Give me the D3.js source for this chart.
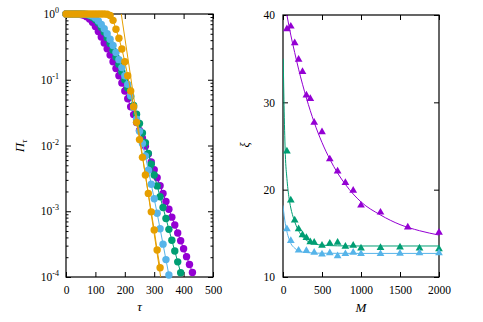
<!DOCTYPE html>
<html lang="en">
<head>
    <meta charset="UTF-8">
    <title>Pi tau and xi</title>
    <script src="https://d3js.org/d3.v7.min.js"></script>
    <style>
        body { margin: 0; background: white; }
        text { font-family: 'Liberation Serif', 'Times New Roman', serif; fill: black; }
        .tick text { font-family: 'Liberation Serif', 'Times New Roman', serif; font-size: 11.5px; }
    </style>
</head>
<body>
    <div id="chart"></div>
    <script>
        // left panel: survival probability vs tau (log scale)
        const tau = [0,10,20,30,40,50,60,70,80,90,100,110,120,130,140,150,160,170,180,190,200,
            210,220,230,240,250,260,270,280,290,300,310,320,330,340,350,360,370,380,390,400,410,420,430];
        const piPurple = [1,1,1,1,0.993,0.982,0.955,0.912,0.841,0.75,0.646,0.543,0.447,0.363,0.295,
            0.237,0.188,0.148,0.115,0.0891,0.0676,0.0513,0.0389,0.0295,0.0224,0.0170,0.0129,0.00977,
            0.00741,0.00562,0.00427,0.00324,0.00245,0.00186,0.00141,0.00107,0.000813,0.000617,
            0.000468,0.000355,0.000269,0.000204,0.000155,0.000117];
        const piGreen = [1,1,1,1,1,0.998,0.991,0.977,0.946,0.895,0.822,0.733,0.631,0.531,0.437,
            0.355,0.282,0.221,0.172,0.132,0.100,0.0750,0.0556,0.0407,0.0299,0.0216,0.0155,0.0110,
            0.00759,0.00519,0.00355,0.00243,0.00166,0.00114,0.000776,0.000531,0.000363,0.000248,
            0.000170,0.000116];
        const piCyan = [1,1,1,1,1,1,0.998,0.989,0.968,0.929,0.867,0.785,0.692,0.596,0.501,0.412,
            0.331,0.260,0.202,0.153,0.115,0.0851,0.0569,0.0380,0.0251,0.0164,0.0107,0.00692,
            0.00422,0.00257,0.00155,0.000933,0.000543,0.000316,0.000184,0.000107];
        const piOrange = [1,1,1,1,1,1,1,1,1,1,1,1,1,0.998,0.99,0.95,0.8,0.585,0.427,0.294,0.188,
            0.115,0.0675,0.039,0.0225,0.0123,0.0066,0.00356,0.00187,0.00098,0.00052,0.000258,0.000138];
        // straight fit drawn for the orange set
        const fitTau = [188, 322];
        const fitPi = [1, 0.0001];
        const tauTicks = [0,100,200,300,400,500];
        const piTicks = [1e-4,1e-3,1e-2,1e-1,1];

        // right panel: xi vs M
        const mPurple = [50,100,150,200,250,300,350,400,500,600,700,800,900,1000,1250,1600,2000];
        const xiPurple = [38.4,38.7,36.8,34.9,33.5,30.8,30.4,27.7,26.6,23.5,22.1,20.8,19.9,18.2,17.4,15.7,15.1];
        const mGreen = [50,100,150,200,250,300,350,400,500,600,700,800,900,1000,1250,1500,1750,2000];
        const xiGreen = [24.4,18.8,16.5,15.5,14.8,14.5,14.0,13.95,13.6,13.85,13.95,13.5,13.6,13.3,13.35,13.4,13.3,13.2];
        const mCyan = [50,100,200,300,400,500,600,700,800,900,1000,1250,1500,1750,2000];
        const xiCyan = [15.5,14.15,13.05,13.0,12.8,12.6,12.75,12.4,12.65,12.8,12.65,12.65,12.7,12.75,12.75];
        // fitted curves
        const mFitPurple = [50,100,150,200,300,400,500,600,700,800,900,1000,1250,1500,1750,2000];
        const xiFitPurple = [40,37.7,35.7,33.8,30.5,27.7,25.4,23.5,21.9,20.6,19.5,18.6,17.1,16.0,15.3,14.8];
        const mFitGreen = [3,15,30,50,75,100,140,200,250,300,400,500,700,1000,2000];
        const xiFitGreen = [35,29,24,21.3,19.2,17.9,16.6,15.3,14.6,14.2,13.8,13.65,13.57,13.55,13.55];
        const mFitCyan = [0,15,30,50,75,100,150,200,300,500,1000,2000];
        const xiFitCyan = [18.2,17.0,16.1,15.2,14.4,13.85,13.3,13.0,12.8,12.72,12.7,12.7];
        const mTicks = [0,500,1000,1500,2000];
        const xiTicks = [10,20,30,40];

        const colors = {purple: "#9400d3", green: "#009e73", cyan: "#56b4e9", orange: "#e69f00"};

        const width = 483, height = 322;
        const svg = d3.select("#chart").append("svg")
            .attr("width", width)
            .attr("height", height);
        svg.append("rect").attr("width", width).attr("height", height).attr("fill", "white");

        // ---------- left panel ----------
        const p1 = {left: 66, right: 213, top: 14, bottom: 277};
        const x1 = d3.scaleLinear().domain([0, 500]).range([p1.left, p1.right]);
        const y1 = d3.scaleLog().domain([1e-4, 1]).range([p1.bottom, p1.top]);

        svg.append("clipPath").attr("id", "clip1").append("rect")
            .attr("x", p1.left).attr("y", p1.top)
            .attr("width", p1.right - p1.left).attr("height", p1.bottom - p1.top);

        const minors = [];
        for (let k = -4; k < 0; k++) for (let m = 2; m <= 9; m++) minors.push(m * Math.pow(10, k));

        function frame(p) {
            svg.append("rect")
                .attr("x", p.left).attr("y", p.top)
                .attr("width", p.right - p.left).attr("height", p.bottom - p.top)
                .attr("fill", "none").attr("stroke", "black").attr("stroke-width", 1.2);
        }
        function cleanAxis(g) {
            g.select(".domain").remove();
            g.selectAll(".tick line").attr("stroke", "black");
        }

        svg.append("g").attr("transform", `translate(0,${p1.bottom})`)
            .call(d3.axisBottom(x1).tickValues(tauTicks).tickSize(-5).tickPadding(9).tickFormat(d3.format("d")))
            .call(cleanAxis);
        svg.append("g").attr("transform", `translate(0,${p1.top})`)
            .call(d3.axisTop(x1).tickValues(tauTicks).tickSize(-5).tickFormat(""))
            .call(cleanAxis);
        svg.append("g").attr("transform", `translate(${p1.left},0)`)
            .call(d3.axisLeft(y1).tickValues(piTicks).tickSize(-5).tickFormat(""))
            .call(cleanAxis);
        svg.append("g").attr("transform", `translate(${p1.left},0)`)
            .call(d3.axisLeft(y1).tickValues(minors).tickSize(-2.5).tickFormat(""))
            .call(cleanAxis);
        svg.append("g").attr("transform", `translate(${p1.right},0)`)
            .call(d3.axisRight(y1).tickValues(piTicks).tickSize(-5).tickFormat(""))
            .call(cleanAxis);
        svg.append("g").attr("transform", `translate(${p1.right},0)`)
            .call(d3.axisRight(y1).tickValues(minors).tickSize(-2.5).tickFormat(""))
            .call(cleanAxis);

        // log tick labels 10^n
        const ylab = svg.append("g").selectAll("text").data(piTicks).join("text")
            .attr("x", p1.left - 7)
            .attr("y", d => y1(d) + 4)
            .attr("text-anchor", "end")
            .style("font-size", "11.5px");
        ylab.append("tspan").text("10");
        ylab.append("tspan").attr("dy", -5).style("font-size", "8px")
            .text(d => String(Math.round(Math.log10(d))));

        frame(p1);

        const lineTau = d3.line().x(d => x1(d[0])).y(d => y1(d[1]));
        const leftSeries = [
            {vals: piPurple, color: colors.purple},
            {vals: piGreen, color: colors.green},
            {vals: piCyan, color: colors.cyan},
            {vals: piOrange, color: colors.orange}
        ];
        leftSeries.forEach(s => {
            const pts = s.vals.map((v, i) => [tau[i], v]);
            svg.append("path").datum(pts)
                .attr("clip-path", "url(#clip1)")
                .attr("fill", "none").attr("stroke", s.color).attr("stroke-width", 1)
                .attr("d", lineTau);
            svg.append("g").selectAll("circle").data(pts).join("circle")
                .attr("cx", d => x1(d[0]))
                .attr("cy", d => y1(d[1]))
                .attr("r", 3.7)
                .attr("fill", s.color);
        });
        svg.append("path").datum(fitTau.map((t, i) => [t, fitPi[i]]))
            .attr("clip-path", "url(#clip1)")
            .attr("fill", "none").attr("stroke", colors.orange).attr("stroke-width", 1)
            .attr("d", lineTau);

        svg.append("text")
            .attr("transform", "translate(24,146) rotate(-90)")
            .attr("text-anchor", "middle")
            .style("font-size", "13px").style("font-style", "italic")
            .text("Π")
            .append("tspan").attr("dy", 3).style("font-size", "9px").text("τ");
        svg.append("text")
            .attr("x", (p1.left + p1.right) / 2).attr("y", 311)
            .attr("text-anchor", "middle")
            .style("font-size", "13px").style("font-style", "italic")
            .text("τ");

        // ---------- right panel ----------
        const p2 = {left: 283, right: 439, top: 15, bottom: 277};
        const x2 = d3.scaleLinear().domain([0, 2000]).range([p2.left, p2.right]);
        const y2 = d3.scaleLinear().domain([10, 40]).range([p2.bottom, p2.top]);

        svg.append("clipPath").attr("id", "clip2").append("rect")
            .attr("x", p2.left).attr("y", p2.top)
            .attr("width", p2.right - p2.left).attr("height", p2.bottom - p2.top);

        svg.append("g").attr("transform", `translate(0,${p2.bottom})`)
            .call(d3.axisBottom(x2).tickValues(mTicks).tickSize(-5).tickPadding(9).tickFormat(d3.format("d")))
            .call(cleanAxis);
        svg.append("g").attr("transform", `translate(0,${p2.top})`)
            .call(d3.axisTop(x2).tickValues(mTicks).tickSize(-5).tickFormat(""))
            .call(cleanAxis);
        svg.append("g").attr("transform", `translate(${p2.left},0)`)
            .call(d3.axisLeft(y2).tickValues(xiTicks).tickSize(-5).tickPadding(8))
            .call(cleanAxis);
        svg.append("g").attr("transform", `translate(${p2.right},0)`)
            .call(d3.axisRight(y2).tickValues(xiTicks).tickSize(-5).tickFormat(""))
            .call(cleanAxis);

        frame(p2);

        const lineM = d3.line().curve(d3.curveMonotoneX).x(d => x2(d[0])).y(d => y2(d[1]));
        const tri = d3.symbol().type(d3.symbolTriangle).size(26);
        const rightSeries = [
            {m: mPurple, xi: xiPurple, fm: mFitPurple, fxi: xiFitPurple, color: colors.purple},
            {m: mGreen, xi: xiGreen, fm: mFitGreen, fxi: xiFitGreen, color: colors.green},
            {m: mCyan, xi: xiCyan, fm: mFitCyan, fxi: xiFitCyan, color: colors.cyan}
        ];
        rightSeries.forEach(s => {
            svg.append("path").datum(s.fm.map((m, i) => [m, s.fxi[i]]))
                .attr("clip-path", "url(#clip2)")
                .attr("fill", "none").attr("stroke", s.color).attr("stroke-width", 1)
                .attr("d", lineM);
            svg.append("g").selectAll("path").data(s.m.map((m, i) => [m, s.xi[i]])).join("path")
                .attr("transform", d => `translate(${x2(d[0])},${y2(d[1])})`)
                .attr("d", tri)
                .attr("fill", s.color);
        });

        svg.append("text")
            .attr("transform", "translate(249,145) rotate(-90)")
            .attr("text-anchor", "middle")
            .style("font-size", "12px").style("font-style", "italic")
            .text("ξ");
        svg.append("text")
            .attr("x", (p2.left + p2.right) / 2).attr("y", 312)
            .attr("text-anchor", "middle")
            .style("font-size", "13px").style("font-style", "italic")
            .text("M");
    </script>
</body>
</html>
